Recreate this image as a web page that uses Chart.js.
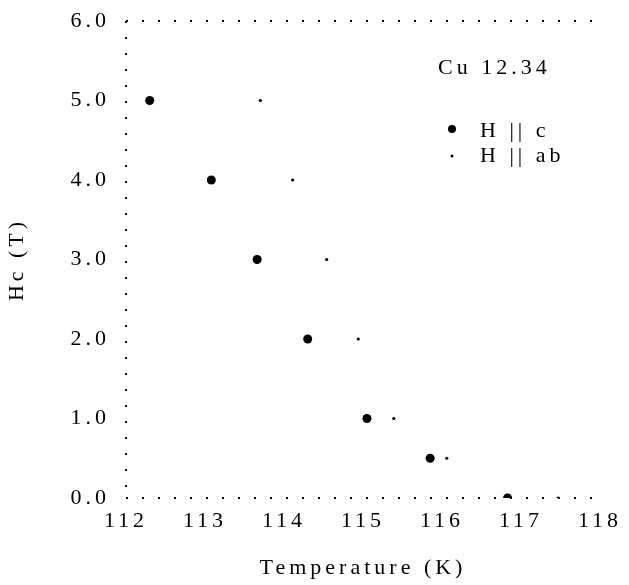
<!DOCTYPE html>
<html>
<head>
<meta charset="utf-8">
<script src="https://cdn.jsdelivr.net/npm/chart.js@4.4.0/dist/chart.umd.min.js"></script>
<style>
  body { margin: 0; background: #fff; }
  #wrap { width: 629px; height: 585px; }
</style>
</head>
<body>
<div id="wrap"><canvas id="hcChart"></canvas></div>
<script>
// Data
const fieldValues = [5.0, 4.0, 3.0, 2.0, 1.0, 0.5, 0.0];   // Hc (T)
const tempParC = [112.3, 113.08, 113.66, 114.3, 115.05, 115.85, 116.83]; // H || c
const tempParAb = [113.7, 114.11, 114.54, 114.94, 115.39, 116.06, 117.47]; // H || ab
const seriesNames = ['H || c', 'H || ab'];
const sampleLabel = 'Cu 12.34';

const FONT = "'Liberation Serif', 'Times New Roman', serif";
const SPACING = '4px';

function toPoints(xs, ys) {
  return xs.map((x, i) => ({ x: x, y: ys[i] }));
}

// wide letter spacing like the original
const spacingPlugin = {
  id: 'spacing',
  beforeLayout(chart) { chart.ctx.letterSpacing = SPACING; },
  beforeDraw(chart) { chart.ctx.letterSpacing = SPACING; }
};

// legend + sample label inside the plot
const notesPlugin = {
  id: 'notes',
  afterDraw(chart) {
    const ctx = chart.ctx;
    ctx.save();
    ctx.letterSpacing = SPACING;
    ctx.fillStyle = '#000';
    ctx.font = '22px ' + FONT;
    ctx.textBaseline = 'middle';
    ctx.fillText(sampleLabel, 438, 68);
    ctx.fillText(seriesNames[0], 480, 131);
    ctx.fillText(seriesNames[1], 480, 156);
    ctx.beginPath();
    ctx.arc(452, 129, 4, 0, Math.PI * 2);
    ctx.fill();
    ctx.beginPath();
    ctx.arc(452, 156, 1.5, 0, Math.PI * 2);
    ctx.fill();
    ctx.restore();
  }
};

const ctx = document.getElementById('hcChart').getContext('2d');
const hcChart = new Chart(ctx, {
  type: 'scatter',
  data: {
    datasets: [{
      label: seriesNames[0],
      data: toPoints(tempParC, fieldValues),
      backgroundColor: '#000',
      borderColor: '#000',
      pointRadius: 4.5,
      pointBorderWidth: 0
    }, {
      label: seriesNames[1],
      data: toPoints(tempParAb, fieldValues),
      backgroundColor: '#000',
      borderColor: '#000',
      pointRadius: 1.6,
      pointBorderWidth: 0
    }]
  },
  options: {
    responsive: true,
    maintainAspectRatio: false,
    animation: false,
    layout: { padding: { top: 21, right: 29, left: 0, bottom: 0 } },
    plugins: {
      legend: { display: false },
      tooltip: { enabled: false }
    },
    scales: {
      x: {
        type: 'linear',
        min: 112,
        max: 118,
        afterFit(scale) {
          scale.height = 87;
          scale.paddingLeft = 0;
          scale.paddingRight = 0;
        },
        ticks: {
          stepSize: 1,
          color: '#000',
          padding: 10,
          font: { family: FONT, size: 22 }
        },
        grid: {
          drawTicks: false,
          lineWidth: 2,
          color: c => (c.tick && c.tick.value === 112) ? '#000' : 'rgba(0,0,0,0)'
        },
        border: { display: false, dash: [2, 14] },
        title: {
          display: true,
          text: 'Temperature (K)',
          color: '#000',
          padding: { top: 4 },
          font: { family: FONT, size: 22 }
        }
      },
      y: {
        min: 0,
        max: 6,
        afterFit(scale) {
          scale.width = 126;
          scale.paddingTop = 0;
          scale.paddingBottom = 0;
        },
        ticks: {
          stepSize: 1,
          color: '#000',
          padding: 16,
          font: { family: FONT, size: 22 },
          callback: v => v.toFixed(1)
        },
        grid: {
          drawTicks: false,
          lineWidth: 2,
          color: c => (c.tick && (c.tick.value === 0 || c.tick.value === 6)) ? '#000' : 'rgba(0,0,0,0)'
        },
        border: { display: false, dash: [2, 14] },
        title: {
          display: true,
          text: 'Hc (T)',
          color: '#000',
          font: { family: FONT, size: 22 }
        }
      }
    }
  },
  plugins: [spacingPlugin, notesPlugin]
});
</script>
</body>
</html>
